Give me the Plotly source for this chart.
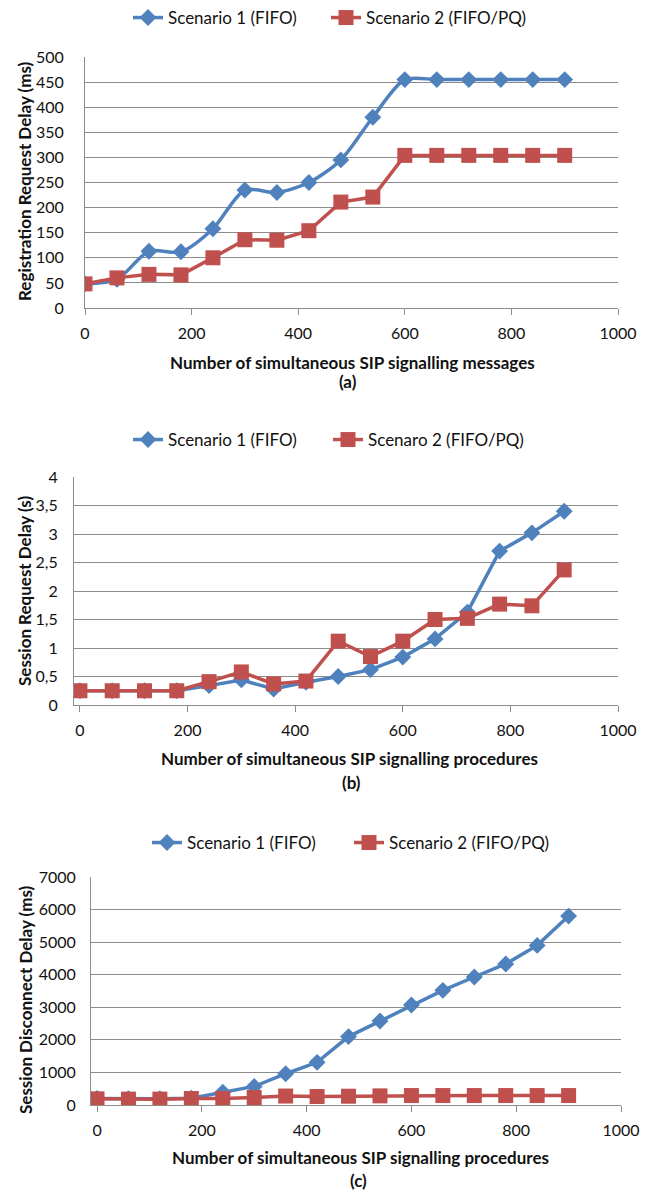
import plotly.graph_objects as go

# ---------------- data ----------------
x_vals = [0, 60, 120, 180, 240, 300, 360, 420, 480, 540, 600, 660, 720, 780, 840, 900]

a_s1 = [48, 57, 113, 112, 158, 235, 230, 250, 295, 380, 455, 455, 455, 455, 455, 455]
a_s2 = [48, 60, 67, 66, 100, 136, 135, 154, 211, 221, 304, 304, 304, 304, 304, 304]

b_s1 = [0.25, 0.25, 0.25, 0.25, 0.34, 0.44, 0.28, 0.40, 0.50, 0.62, 0.84, 1.16, 1.63, 2.70, 3.02, 3.40]
b_s2 = [0.25, 0.25, 0.25, 0.25, 0.41, 0.58, 0.37, 0.42, 1.12, 0.85, 1.12, 1.50, 1.52, 1.77, 1.74, 2.37]

c_s1 = [200, 190, 190, 210, 390, 570, 960, 1310, 2100, 2580, 3070, 3520, 3930, 4330, 4900, 5800]
c_s2 = [190, 180, 180, 200, 200, 230, 275, 260, 270, 280, 290, 290, 290, 290, 290, 290]

names_a = ["Scenario 1 (FIFO)", "Scenario 2 (FIFO/PQ)"]
names_b = ["Scenario 1 (FIFO)", "Scenaro 2 (FIFO/PQ)"]
names_c = ["Scenario 1 (FIFO)", "Scenario 2 (FIFO/PQ)"]

x_titles = ["Number of simultaneous SIP signalling messages",
            "Number of simultaneous SIP signalling procedures",
            "Number of simultaneous SIP signalling procedures"]
sub_labels = ["(a)", "(b)", "(c)"]
y_titles = ["Registration Request Delay (ms)", "Session Request Delay (s)",
            "Session Disconnect Delay (ms)"]

# ---------------- style ----------------
W, H = 652, 1190
BLUE = "#4F81BD"
RED = "#C0504D"
FONT = "Lato, Open Sans, sans-serif"
TXT = "#111111"
GRID = "#8C8C8C"
FS = 17
TFS = 16


def px_x(p):
    return p / W


def px_y(p):
    return 1 - p / H


fig = go.Figure()

panels = [
    dict(s1=a_s1, s2=a_s2, names=names_a, xdom=(85, 618), ydom=(308, 57), xr=[0, 1000],
         yr=[0, 500], dtick=50, spline=True, legy=18, legtx=(168, 366), ytfmt="d", ystand=17),
    dict(s1=b_s1, s2=b_s2, names=names_b, xdom=(74, 618), ydom=(705, 477), xr=[-11, 1000],
         yr=[0, 4], dtick=0.5, spline=False, legy=440, legtx=(168, 368), ytfmt="", ystand=12),
    dict(s1=c_s1, s2=c_s2, names=names_c, xdom=(91, 621), ydom=(1105, 877), xr=[-11.5, 1000],
         yr=[0, 7000], dtick=1000, spline=False, legy=843, legtx=(187, 389), ytfmt="d", ystand=11),
]

title_pos = [  # (x-title cx, x-title y, sub cx, sub y, ytitle x, ytitle y)
    (352, 362, 348, 382, 24, 182),
    (349, 758, 351, 782, 24, 591),
    (360, 1157, 358, 1180, 25, 1000),
]

for i, p in enumerate(panels):
    k = "" if i == 0 else str(i + 1)
    legs = [f"legend{2 * i + 1}" if i > 0 else "legend", f"legend{2 * i + 2}"]
    fig.add_trace(go.Scatter(
        x=x_vals, y=p["s1"], name=p["names"][0], mode="lines+markers",
        xaxis="x" + k, yaxis="y" + k, legend=legs[0],
        line=dict(color=BLUE, width=3.5, shape="spline" if p["spline"] else "linear", smoothing=0.8),
        marker=dict(symbol="diamond", size=13, color=BLUE),
    ))
    fig.add_trace(go.Scatter(
        x=x_vals, y=p["s2"], name=p["names"][1], mode="lines+markers",
        xaxis="x" + k, yaxis="y" + k, legend=legs[1],
        line=dict(color=RED, width=3.5),
        marker=dict(symbol="square", size=15, color=RED),
    ))
    xa = dict(
        domain=[px_x(p["xdom"][0]), px_x(p["xdom"][1])], range=p["xr"], anchor="y" + k,
        tick0=0, dtick=200, ticks="outside", ticklen=6, tickcolor=GRID, tickwidth=1,
        showline=True, linecolor=GRID, linewidth=1, showgrid=False, zeroline=False,
        tickfont=dict(family=FONT, size=TFS, color=TXT), tickformat="d",
        ticklabelstandoff=5,
    )
    ya = dict(
        domain=[px_y(p["ydom"][0]), px_y(p["ydom"][1])], range=p["yr"], anchor="x" + k,
        dtick=p["dtick"], tick0=0, showline=True, linecolor=GRID, linewidth=1,
        showgrid=True, gridcolor=GRID, gridwidth=1, zeroline=False, ticks="",
        tickfont=dict(family=FONT, size=TFS, color=TXT), tickformat=p["ytfmt"],
        ticklabelstandoff=p["ystand"],
    )
    fig.update_layout(**{("xaxis" + k): xa, ("yaxis" + k): ya})
    for j in range(2):
        fig.update_layout(**{legs[j]: dict(
            orientation="h", x=px_x(p["legtx"][j] - 40), xanchor="left",
            y=px_y(p["legy"]), yanchor="middle",
            font=dict(family=FONT, size=FS, color=TXT), bgcolor="rgba(0,0,0,0)",
            itemwidth=30,
        )})
    cx, ty, sx, sy, yx, yy = title_pos[i]
    fig.add_annotation(x=px_x(cx), y=px_y(ty), xref="paper", yref="paper", text=f"<b>{x_titles[i]}</b>",
                       showarrow=False, xanchor="center", yanchor="middle",
                       font=dict(family=FONT, size=FS, color=TXT))
    fig.add_annotation(x=px_x(sx), y=px_y(sy), xref="paper", yref="paper", text=f"<b>{sub_labels[i]}</b>",
                       showarrow=False, xanchor="center", yanchor="middle",
                       font=dict(family=FONT, size=FS, color=TXT))
    fig.add_annotation(x=px_x(yx), y=px_y(yy), xref="paper", yref="paper", text=f"<b>{y_titles[i]}</b>",
                       showarrow=False, xanchor="center", yanchor="middle", textangle=-90,
                       font=dict(family=FONT, size=FS, color=TXT))

fig.update_layout(
    width=W, height=H, margin=dict(l=0, r=0, t=0, b=0),
    paper_bgcolor="white", plot_bgcolor="white", template="none",
    separators=",.", showlegend=True, hovermode=False,
)

fig.write_html("out.html", config={"displayModeBar": False},
               post_script="document.body.style.margin='0';document.body.style.overflow='hidden';")
